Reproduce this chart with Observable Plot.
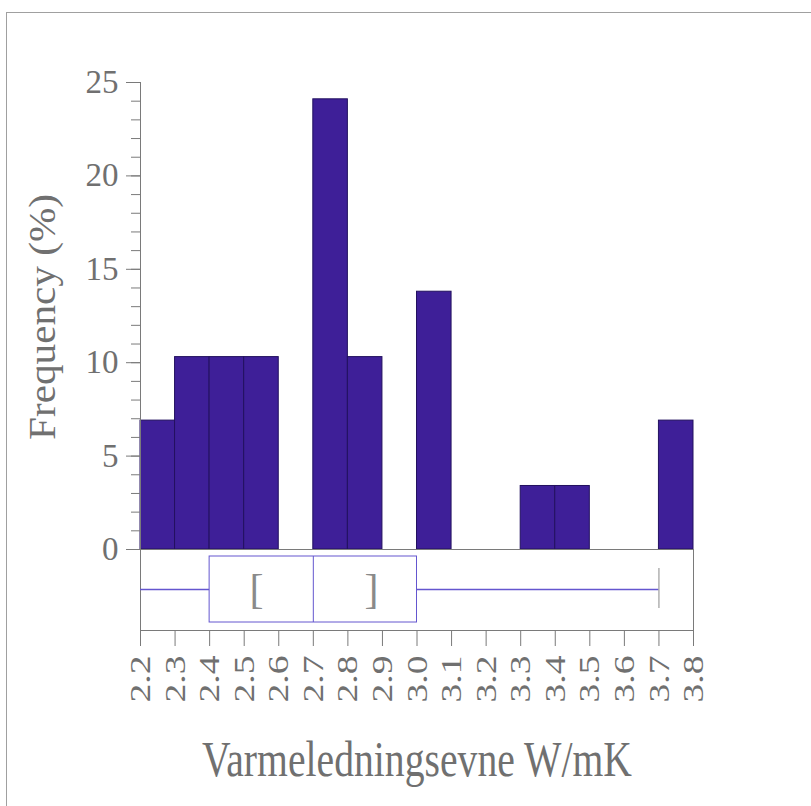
<!DOCTYPE html>
<html><head><meta charset="utf-8">
<script src="https://cdn.jsdelivr.net/npm/d3@7"></script>
<script src="https://cdn.jsdelivr.net/npm/@observablehq/plot@0.6"></script>
<style>
html,body{margin:0;padding:0;background:#fff;overflow:hidden;width:811px;height:806px;}
#frame{position:absolute;left:6px;top:12px;width:900px;height:900px;border-left:1.5px solid #a0a0a0;border-top:1.5px solid #a0a0a0;}
#hist{position:absolute;left:0;top:0;}
#box{position:absolute;left:0;top:548px;}
svg{overflow:visible;}
</style></head><body>
<div id="frame"></div>
<div id="hist"></div><div id="box"></div>
<script>
// Histogram bins (W/mK) and frequency (%)
const binStart = [2.2, 2.3, 2.4, 2.5, 2.6, 2.7, 2.8, 2.9, 3.0, 3.1, 3.2, 3.3, 3.4, 3.5, 3.6, 3.7];
const binEnd   = [2.3, 2.4, 2.5, 2.6, 2.7, 2.8, 2.9, 3.0, 3.1, 3.2, 3.3, 3.4, 3.5, 3.6, 3.7, 3.8];
const frequency = [6.9, 10.3, 10.3, 10.3, 0, 24.1, 10.3, 0, 13.8, 0, 0, 3.4, 3.4, 0, 0, 6.9];
// Tick labels
const xTickLabels = ["2.2","2.3","2.4","2.5","2.6","2.7","2.8","2.9","3.0","3.1","3.2","3.3","3.4","3.5","3.6","3.7","3.8"];
const yMajorTicks = [0, 5, 10, 15, 20, 25];
const yMinorTicks = [0,1,2,3,4,5,6,7,8,9,10,11,12,13,14,15,16,17,18,19,20,21,22,23,24,25];
// Box plot summary
const boxNames   = ["box"];
const boxMin     = [2.2];
const boxQ1      = [2.4];
const boxMedian  = [2.7];
const boxQ3      = [3.0];
const boxMax     = [3.7];
const boxCiLow   = [2.527];
const boxCiHigh  = [2.877];
const xLabel = "Varmeledningsevne W/mK";
const yLabel = "Frequency (%)";

const xTicks = xTickLabels.map(Number);
const bins = binStart.map((s, i) => ({x1: s, x2: binEnd[i], f: frequency[i]})).filter(d => d.f > 0);
const boxRows = boxNames.map((n, i) => ({name: n, min: boxMin[i], q1: boxQ1[i], median: boxMedian[i], q3: boxQ3[i], max: boxMax[i], lo: boxCiLow[i], hi: boxCiHigh[i]}));

const FONT = "'Liberation Serif', 'Times New Roman', serif";
const AX = "#7a7a7a";
const TXT = "#707070";
const BOXC = "#6456cf";

const hist = Plot.plot({
  width: 811, height: 550,
  marginLeft: 140, marginRight: 118, marginTop: 82, marginBottom: 1,
  x: {domain: [2.2, 3.8], axis: null},
  y: {domain: [0, 25], axis: null},
  style: {fontFamily: FONT, color: AX, background: "transparent", overflow: "visible"},
  marks: [
    Plot.rectY(bins, {x1: "x1", x2: "x2", y: "f", fill: "#3e1f98", stroke: "#22105f", strokeWidth: 1}),
    Plot.ruleX([2.2], {y1: 0, y2: 25, stroke: AX}),
    Plot.axisY({ticks: yMinorTicks, tickSize: 9, tickFormat: () => "", stroke: AX, label: null}),
    Plot.axisY({ticks: yMajorTicks, tickSize: 14, tickPadding: 8, fontSize: 33, stroke: AX, fill: TXT, label: null}),
    Plot.text([yLabel], {text: d => d, frameAnchor: "left", rotate: -90, textAnchor: "start", dx: -86, dy: 124, lineAnchor: "bottom", fontSize: 38, fill: TXT})
  ]
});
document.getElementById("hist").appendChild(hist);

const box = Plot.plot({
  width: 811, height: 258,
  marginLeft: 140, marginRight: 118, marginTop: 1, marginBottom: 176,
  x: {domain: [2.2, 3.8], axis: null},
  y: {domain: boxNames, padding: 0.095, axis: null},
  style: {fontFamily: FONT, color: AX, background: "transparent", overflow: "visible"},
  marks: [
    Plot.frame({stroke: AX}),
    Plot.ruleY(boxRows, {y: "name", x1: "min", x2: "q1", stroke: BOXC, strokeWidth: 1.3}),
    Plot.ruleY(boxRows, {y: "name", x1: "q3", x2: "max", stroke: BOXC, strokeWidth: 1.3}),
    Plot.barX(boxRows, {y: "name", x1: "q1", x2: "q3", fill: "none", stroke: BOXC}),
    Plot.tickX(boxRows, {y: "name", x: "median", stroke: BOXC}),
    Plot.tickX(boxRows, {y: "name", x: "max", stroke: "#8a8a8a", insetTop: 12, insetBottom: 14}),
    Plot.text(boxRows, {y: "name", x: "lo", text: () => "[", textAnchor: "start", dx: -4, fontSize: 42, fill: "#8a8a8a"}),
    Plot.text(boxRows, {y: "name", x: "hi", text: () => "]", textAnchor: "end", dx: 4, fontSize: 42, fill: "#8a8a8a"}),
    Plot.axisX({ticks: xTicks, tickSize: 16, tickPadding: 9, tickRotate: -90, tickFormat: d3.format(".1f"), fontSize: 30, stroke: AX, fill: TXT, label: null}),
    Plot.text([xLabel], {text: d => d, frameAnchor: "bottom", dy: 145, lineAnchor: "bottom", fontSize: 50, fill: TXT})
  ]
});
document.getElementById("box").appendChild(box);

// Stretch/condense text to match the reference's anisotropic lettering
d3.selectAll("text").filter(function(){ return this.textContent === xLabel; })
  .attr("textLength", 430).attr("lengthAdjust", "spacingAndGlyphs");
d3.selectAll("text").filter(function(){ return this.textContent === yLabel; })
  .attr("textLength", 246).attr("lengthAdjust", "spacingAndGlyphs");
d3.select(box).selectAll("text").filter(function(){ return xTickLabels.includes(this.textContent); })
  .attr("textLength", 47).attr("lengthAdjust", "spacingAndGlyphs");
</script>
</body></html>
